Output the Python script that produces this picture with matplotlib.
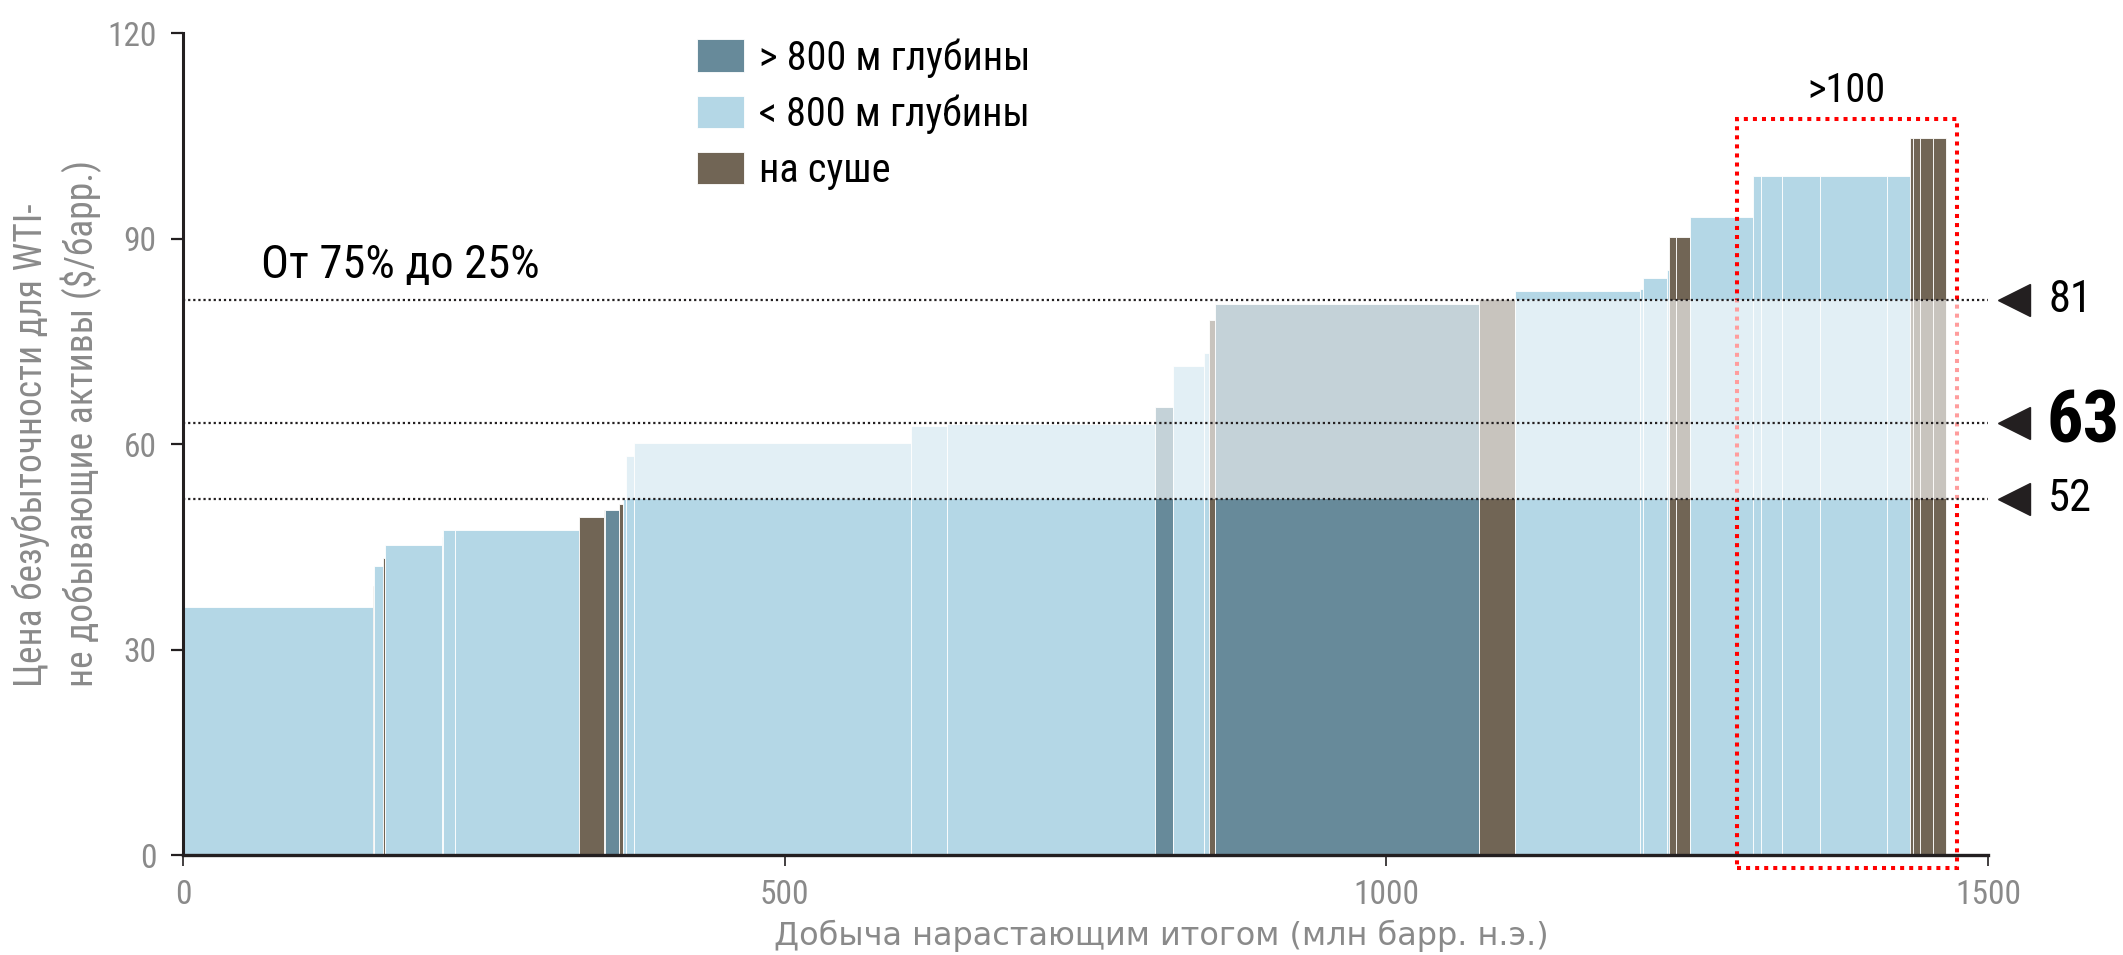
import matplotlib
matplotlib.use("Agg")
import matplotlib.pyplot as plt
from matplotlib.patches import Patch, Rectangle
import numpy as np

plt.rcParams['font.family'] = ['Roboto Condensed', 'Liberation Sans Narrow',
                               'Roboto', 'DejaVu Sans']

# asset widths (mln boe), breakeven prices ($/bbl), and asset type
widths = [158, 1, 7, 1.5, 47.5, 1, 10, 103, 21, 1, 11, 4, 2, 6.5, 230.5, 30, 173,
          14.5, 26, 4.5, 4.5, 219.5, 30, 104, 2, 20, 1.5, 6, 11.5, 53, 6, 18, 31,
          56, 19, 3, 5.5, 10.5, 11]
prices = [36.2, 39.3, 42.2, 43.3, 45.2, 46.4, 47.4, 47.4, 49.3, 50.4, 50.4, 51.2,
          52.0, 58.2, 60.2, 62.6, 62.9, 65.4, 71.4, 73.3, 78.1, 80.5, 81.2, 82.3,
          82.6, 84.2, 85.4, 90.2, 90.2, 93.2, 99.1, 99.1, 99.1, 99.1, 99.1, 104.7,
          104.7, 104.7, 104.7]
kinds = ['S', 'O', 'S', 'O', 'S', 'S', 'S', 'S', 'O', 'O', 'D', 'O', 'S', 'S', 'S',
         'S', 'S', 'D', 'S', 'S', 'O', 'D', 'O', 'S', 'S', 'S', 'S', 'O', 'O', 'S',
         'S', 'S', 'S', 'S', 'S', 'O', 'O', 'O', 'O']

band_lines = [81, 63, 52]
band_labels = ['81', '63', '52']
yticks = [0, 30, 60, 90, 120]
xticks = [0, 500, 1000, 1500]

legend_names = {'D': '> 800 м глубины', 'S': '< 800 м глубины', 'O': 'на суше'}
colors = {'D': '#678a9a', 'S': '#b4d7e6', 'O': '#716555'}
axis_col = '#231f20'
grey = '#8a8a8a'

fig = plt.figure(figsize=(21.23, 9.55), dpi=100)
ax = fig.add_axes([183 / 2123, 1 - 855 / 955, 1805 / 2123, 822 / 955])

lefts = np.concatenate([[0], np.cumsum(widths)[:-1]])
ax.bar(lefts, prices, width=widths, align='edge',
       color=[colors[k] for k in kinds], edgecolor='white', linewidth=0.6, zorder=2)

# >100 box
ax.add_patch(Rectangle((1291, -1.9), 183, 109.4, fill=False, edgecolor='#ff0000',
                       linewidth=2.9, linestyle=(0, (1, 1.25)), clip_on=False, zorder=4))
ax.text(1382, 110, '>100', fontsize=29, ha='center', va='baseline', color='black')

# interquartile band
ax.axhspan(52, 81, color='white', alpha=0.62, linewidth=0, zorder=5)
for v, lab in zip(band_lines, band_labels):
    ax.plot([0, 1500], [v, v], color=axis_col, linewidth=1.6,
            linestyle=(0, (1, 1.3)), zorder=6, clip_on=False)
    ax.plot([1522], [v], marker='<', markersize=22.5, color=axis_col,
            linestyle='none', clip_on=False, zorder=6)
    if lab == '63':
        ax.text(1549, v, lab, fontsize=52, fontweight='bold', va='center',
                color='black', clip_on=False)
    else:
        ax.text(1550, v, lab, fontsize=32, va='center', color='black', clip_on=False)

ax.text(65, 84.2, 'От 75% до 25%', fontsize=33.5, va='baseline', color='black')

ax.set_xlim(0, 1500)
ax.set_ylim(0, 120)
ax.set_xticks(xticks)
ax.set_yticks(yticks)
for s in ['top', 'right']:
    ax.spines[s].set_visible(False)
ax.spines['left'].set_linewidth(2.2)
ax.spines['bottom'].set_linewidth(2.4)
ax.spines['left'].set_color(axis_col)
ax.spines['bottom'].set_color(axis_col)
ax.spines['left'].set_zorder(7)
ax.spines['bottom'].set_zorder(7)
ax.tick_params(axis='y', length=9, width=1.6, color=axis_col, labelcolor=grey,
               labelsize=24, pad=10)
ax.tick_params(axis='x', length=8, width=1.2, color=axis_col, labelcolor=grey,
               labelsize=24, pad=9)

fig.text(57 / 2123, 1 - 423 / 955,
         'Цена безубыточности для WTI-\nне добывающие активы ($/барр.)',
         rotation=90, ha='center', va='center', multialignment='left',
         fontsize=27, color=grey, linespacing=1.3)
fig.text(1161 / 2123, 1 - 945 / 955, 'Добыча нарастающим итогом (млн барр. н.э.)',
         ha='center', va='baseline', fontsize=23, color=grey,
         family=['DejaVu Sans'])

handles = [Patch(facecolor=colors[k], edgecolor='white', linewidth=0.6,
                 label=legend_names[k]) for k in ['D', 'S', 'O']]
fig.legend(handles=handles, loc='upper left', bbox_to_anchor=(697 / 2123, 1 - 38 / 955),
           frameon=False, fontsize=29, handlelength=1.17, handleheight=0.85,
           handletextpad=0.38, labelspacing=0.42, borderpad=0, borderaxespad=0)

fig.savefig('out.png', dpi=100)
